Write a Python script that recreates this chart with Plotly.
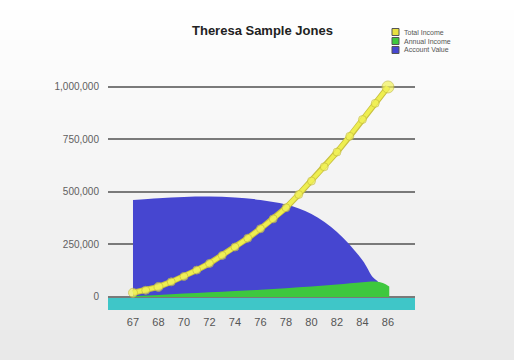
import plotly.graph_objects as go

# Age labels along the horizontal axis (one per major position)
age_labels = ["67", "68", "70", "72", "74", "76", "78", "80", "82", "84", "86"]
age_ticks = list(range(len(age_labels)))

# Total income: cumulative income, one point every half step
income_pos = [0, 0.5, 1, 1.5, 2, 2.5, 3, 3.5, 4, 4.5, 5, 5.5, 6, 6.5, 7, 7.5, 8, 8.5, 9, 9.5, 10]
total_income = [20000, 32000, 48000, 72000, 98000, 128000, 160000, 198000, 238000, 280000,
                325000, 372000, 425000, 488000, 552000, 620000, 690000, 765000, 845000, 922000, 1000000]

# Account value
account_pos = [0, 1, 2, 3, 4, 5, 6, 7, 8, 9, 9.4, 9.6]
account_value = [462000, 470000, 476000, 478000, 474000, 462000, 440000, 395000, 310000, 175000, 95000, 75000]

# Annual income
annual_pos = [0, 1, 2, 3, 4, 5, 6, 7, 8, 9, 9.5, 9.8, 10.05]
annual_income = [4000, 10000, 16000, 22000, 28000, 35000, 42000, 50000, 59000, 70000, 74000, 66000, 50000]

# Value axis
value_ticks = [0, 250000, 500000, 750000, 1000000]
value_labels = ["0", "250,000", "500,000", "750,000", "1,000,000"]

YELLOW = "#eeee50"
GREEN = "#3ec83e"
BLUE = "#4646d0"
CYAN = "#3fc6c8"

fig = go.Figure()

fig.add_trace(go.Scatter(
    x=account_pos, y=account_value, mode="none", fill="tozeroy",
    fillcolor=BLUE, line=dict(shape="spline"), name="Account Value", showlegend=False,
))
fig.add_trace(go.Scatter(
    x=annual_pos, y=annual_income, mode="none", fill="tozeroy",
    fillcolor=GREEN, line=dict(shape="spline"), name="Annual Income", showlegend=False,
))
fig.add_trace(go.Scatter(
    x=income_pos, y=total_income, mode="lines", name="Total Income",
    line=dict(color="#c8c040", width=6), showlegend=False, hoverinfo="skip",
))
marker_sizes = [9, 8, 9] + [8] * (len(income_pos) - 4) + [12]
fig.add_trace(go.Scatter(
    x=income_pos, y=total_income, mode="lines+markers", name="Total Income",
    line=dict(color=YELLOW, width=4),
    marker=dict(size=marker_sizes, color="#f2f25a", line=dict(color="#c8c040", width=1)),
    showlegend=False,
))

shapes = []
# Soft vertical background gradient from white to light grey
n_bands = 36
top_py, bot_py = 0, 360
for i in range(n_bands):
    py0 = top_py + (bot_py - top_py) * i / n_bands
    py1 = top_py + (bot_py - top_py) * (i + 1) / n_bands
    g = int(round(255 - (255 - 233) * i / (n_bands - 1)))
    shapes.append(dict(
        type="rect", xref="paper", yref="paper",
        x0=-0.36, x1=1.33, y0=(310 - py1) / 235, y1=(310 - py0) / 235,
        fillcolor=f"rgb({g},{g},{g})", line=dict(width=0), layer="below",
    ))
# Floor slab
shapes.append(dict(
    type="rect", xref="paper", yref="y", x0=0, x1=1, y0=-62000, y1=-4000,
    fillcolor=CYAN, line=dict(width=0), layer="between",
))

# Hand-drawn legend
legend_items = [("Total Income", "#e8e040"), ("Annual Income", GREEN), ("Account Value", BLUE)]
annotations = []
for k, (name, col) in enumerate(legend_items):
    py = 32 + 9 * k
    yc = (310 - py) / 235
    shapes.append(dict(
        type="rect", xref="paper", yref="paper",
        x0=(392 - 108) / 307, x1=(399 - 108) / 307,
        y0=yc - 3.5 / 235, y1=yc + 3.5 / 235,
        fillcolor=col, line=dict(color="#555555", width=1),
    ))
    annotations.append(dict(
        x=(402 - 108) / 307, y=yc, xref="paper", yref="paper",
        text=name, showarrow=False, xanchor="left", yanchor="middle",
        font=dict(family="Arial", size=7, color="#555555"),
    ))

annotations.append(dict(
    x=(262 - 108) / 307, y=(310 - 30) / 235, xref="paper", yref="paper",
    text="<b>Theresa Sample Jones</b>", showarrow=False,
    xanchor="center", yanchor="middle",
    font=dict(family="Arial", size=13, color="#222222"),
))

fig.update_layout(
    width=514, height=360,
    margin=dict(l=108, r=99, t=75, b=50),
    paper_bgcolor="#f0f0f0",
    plot_bgcolor="rgba(0,0,0,0)",
    shapes=shapes,
    annotations=annotations,
    showlegend=False,
    xaxis=dict(
        range=[-0.98, 11.06], tickvals=age_ticks, ticktext=age_labels,
        showgrid=False, zeroline=False, showline=False, ticks="",
        ticklabelstandoff=4,
        tickfont=dict(family="Arial", size=11, color="#555555"),
        fixedrange=True,
    ),
    yaxis=dict(
        range=[-62000, 1057000], tickvals=value_ticks, ticktext=value_labels,
        showgrid=True, gridcolor="#7a7a7a", gridwidth=2, zeroline=False,
        showline=False, ticks="", ticklabelstandoff=8,
        tickfont=dict(family="Arial", size=10, color="#606060"),
        fixedrange=True,
    ),
)

fig.write_html("out.html", config={"displayModeBar": False})
